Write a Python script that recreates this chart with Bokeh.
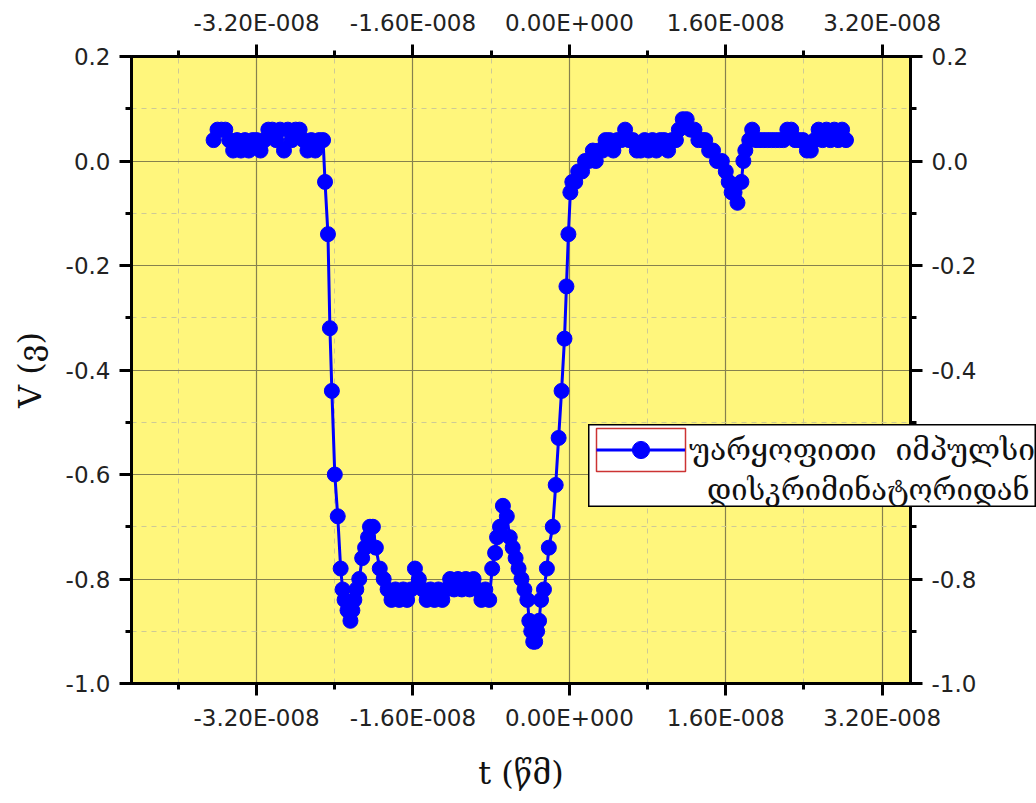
from bokeh.plotting import figure
from bokeh.models import (Range1d, LinearAxis, FixedTicker, CustomJSTickFormatter,
                          BoxAnnotation, Legend, LegendItem, Label, ColumnDataSource)
from bokeh.embed import file_html
from bokeh.resources import INLINE

# ---------------- data (time in ns, voltage in V) ----------------
t_ns = [
    -36.4, -36.0, -35.6, -35.2, -34.8, -34.4, -34.0, -33.6, -33.2, -32.8,
    -32.4, -32.0, -31.6, -31.2, -30.8, -30.4, -30.0, -29.6, -29.2, -28.8,
    -28.4, -28.0, -27.6, -27.2, -26.8, -26.4, -26.0, -25.6, -25.2,
    -25.0, -24.7, -24.5, -24.3, -24.0, -23.7, -23.4,
    -23.2, -23.0, -22.7, -22.4, -22.2, -22.0, -21.8, -21.5, -21.2, -20.9,
    -20.6, -20.4, -20.1, -19.8, -19.4,
    -19.0, -18.6, -18.2, -17.8, -17.4, -17.0, -16.6, -16.2, -15.8, -15.4,
    -15.0, -14.6, -14.2, -13.8, -13.4, -13.0, -12.6, -12.2, -11.8, -11.4,
    -11.0, -10.6, -10.2, -9.8, -9.4, -9.0, -8.6, -8.2,
    -7.9, -7.6, -7.4, -7.1, -6.8, -6.4, -6.1, -5.8, -5.5, -5.2,
    -4.9, -4.6, -4.3, -4.1, -3.9, -3.7, -3.5, -3.3, -3.1, -2.9,
    -2.6, -2.3, -2.1, -1.7, -1.4, -1.1, -0.8, -0.5, -0.3, -0.1, 0.1,
    0.3, 0.6, 0.9, 1.3, 1.6, 2.0, 2.4, 2.7, 3.0, 3.4, 3.7,
    4.1, 4.5, 4.9, 5.3, 5.7, 6.1, 6.5, 6.9, 7.3, 7.7,
    8.1, 8.5, 8.9, 9.3, 9.7, 10.1, 10.5, 10.9,
    11.2, 11.6, 12.0, 12.4,
    12.8, 13.2, 13.6, 13.9, 14.3, 14.7, 15.1, 15.6, 16.0, 16.3,
    16.6, 16.9, 17.2,
    17.6, 17.8, 18.0, 18.4, 18.7,
    19.1, 19.5, 19.9, 20.3, 20.7, 21.1, 21.5, 21.9, 22.3, 22.7,
    23.1, 23.5, 23.9, 24.3, 24.7, 25.1, 25.5, 25.9, 26.3, 26.7,
    27.1, 27.5, 27.9, 28.3,
]
v_volts = [
    0.04, 0.06, 0.06, 0.06, 0.04, 0.02, 0.04, 0.02, 0.04, 0.02,
    0.04, 0.04, 0.02, 0.04, 0.06, 0.06, 0.04, 0.06, 0.02, 0.06,
    0.04, 0.06, 0.06, 0.04, 0.02, 0.04, 0.02, 0.04, 0.04,
    -0.04, -0.14, -0.32, -0.44, -0.60, -0.68, -0.78,
    -0.82, -0.84, -0.86, -0.88, -0.86, -0.84, -0.82, -0.80, -0.76, -0.74,
    -0.72, -0.70, -0.70, -0.74, -0.78,
    -0.80, -0.82, -0.84, -0.82, -0.84, -0.82, -0.84, -0.82, -0.78, -0.80,
    -0.82, -0.84, -0.82, -0.84, -0.82, -0.84, -0.82, -0.80, -0.82, -0.80,
    -0.82, -0.80, -0.82, -0.80, -0.82, -0.84, -0.82, -0.84,
    -0.78, -0.75, -0.72, -0.70, -0.66, -0.68, -0.72, -0.74, -0.76, -0.78,
    -0.80, -0.82, -0.84, -0.88, -0.90, -0.92, -0.92, -0.90, -0.88, -0.84,
    -0.82, -0.78, -0.74, -0.70, -0.62, -0.53, -0.44, -0.34, -0.24, -0.14, -0.06,
    -0.04, -0.04, -0.02, -0.02, 0.00, 0.00, 0.02, 0.00, 0.02, 0.02, 0.04,
    0.04, 0.02, 0.04, 0.04, 0.06, 0.04, 0.04, 0.02, 0.02, 0.04,
    0.02, 0.04, 0.02, 0.04, 0.04, 0.02, 0.04, 0.04,
    0.06, 0.08, 0.08, 0.06,
    0.06, 0.04, 0.04, 0.04, 0.02, 0.02, 0.00, 0.00, -0.02, -0.04,
    -0.06, -0.06, -0.08,
    -0.04, 0.00, 0.02, 0.04, 0.06,
    0.04, 0.04, 0.04, 0.04, 0.04, 0.04, 0.04, 0.04, 0.06, 0.06,
    0.04, 0.04, 0.04, 0.02, 0.02, 0.04, 0.06, 0.04, 0.06, 0.04,
    0.06, 0.04, 0.06, 0.04,
]
t_sec = [x * 1e-9 for x in t_ns]

x_ticks = [-3.2e-8, -1.6e-8, 0.0, 1.6e-8, 3.2e-8]
x_tick_labels = ["-3.20E-008", "-1.60E-008", "0.00E+000", "1.60E-008", "3.20E-008"]
x_minor_ticks = [-4.0e-8, -2.4e-8, -0.8e-8, 0.8e-8, 2.4e-8]
y_ticks = [0.2, 0.0, -0.2, -0.4, -0.6, -0.8, -1.0]
y_tick_labels = ["0.2", "0.0", "-0.2", "-0.4", "-0.6", "-0.8", "-1.0"]
y_minor_ticks = [0.1, -0.1, -0.3, -0.5, -0.7, -0.9]

x_title = "t (წმ)"
y_title = "V (ვ)"
legend_line1 = "უარყოფითი  იმპულსი"
legend_line2 = "დისკრიმინატორიდან"

BLUE = "#0000FF"
MARKER_SIZE = 15
LINE_W = 3

src = ColumnDataSource(data=dict(t=t_sec, v=v_volts))

# ---------------- main figure ----------------
W, H = 1036, 803
FL, FR, FT, FB = 131, 910, 56, 683

p = figure(width=W, height=H, output_backend="svg", toolbar_location=None,
           x_range=Range1d(-4.48e-8, 3.49e-8), y_range=Range1d(-1.0, 0.2),
           min_border_left=FL, min_border_right=W - FR,
           min_border_top=FT, min_border_bottom=H - FB)
p.background_fill_color = "#FFF67C"
p.border_fill_color = "white"
p.outline_line_color = "black"
p.outline_line_width = 3

p.add_layout(LinearAxis(), "above")
p.add_layout(LinearAxis(), "right")

xt = FixedTicker(ticks=x_ticks, minor_ticks=x_minor_ticks)
yt = FixedTicker(ticks=y_ticks, minor_ticks=y_minor_ticks)

fmt_code = """
let best = -1, bd = Infinity;
for (let i = 0; i < tv.length; i++) { const d = Math.abs(tick - tv[i]); if (d < bd) { bd = d; best = i; } }
return best >= 0 ? tl[best] : "";
"""
xf = CustomJSTickFormatter(args=dict(tv=x_ticks, tl=x_tick_labels), code=fmt_code)
yf = CustomJSTickFormatter(args=dict(tv=y_ticks, tl=y_tick_labels), code=fmt_code)

for ax in list(p.xaxis) + list(p.yaxis):
    ax.axis_line_width = 3
    ax.axis_line_color = "black"
    ax.major_tick_line_width = 3
    ax.minor_tick_line_width = 3
    ax.major_tick_out = 12
    ax.major_tick_in = 0
    ax.minor_tick_out = 6
    ax.minor_tick_in = 0
    ax.major_label_text_font = "DejaVu Sans"
    ax.major_label_text_font_size = "23px"
    ax.major_label_text_color = "#222222"
    ax.major_label_standoff = 9
    ax.axis_label_text_font = "DejaVu Serif"
    ax.axis_label_text_font_size = "32px"
    ax.axis_label_text_font_style = "normal"
    ax.axis_label_text_color = "#111111"

for ax in p.xaxis:
    ax.ticker = xt
    ax.formatter = xf
for ax in p.yaxis:
    ax.ticker = yt
    ax.formatter = yf

p.below[0].axis_label = x_title
p.below[0].axis_label_standoff = 20
p.left[0].axis_label = y_title
p.left[0].axis_label_standoff = 14

for g, tk in ((p.xgrid, xt), (p.ygrid, yt)):
    g.ticker = tk
    g.grid_line_color = "#86814e"
    g.grid_line_width = 1.2
    g.minor_grid_line_color = "#cdc996"
    g.minor_grid_line_width = 1
    g.minor_grid_line_dash = "5 5"

p.line("t", "v", source=src, line_color=BLUE, line_width=LINE_W)
p.scatter("t", "v", source=src, marker="circle", size=MARKER_SIZE,
          fill_color=BLUE, line_color=BLUE)

# ---------------- legend: separate root placed over the chart (it overflows the frame) ----------------
LX0, LY0, LX1, LY1 = 588, 424, 1036, 507
lw, lh = LX1 - LX0, LY1 - LY0
q = figure(width=lw, height=lh, output_backend="svg", toolbar_location=None,
           x_axis_location=None, y_axis_location=None,
           min_border=0, min_border_left=0, min_border_right=0,
           min_border_top=0, min_border_bottom=0,
           x_range=Range1d(1, 2), y_range=Range1d(1, 2))   # series stays out of view here
q.grid.visible = False
q.background_fill_color = "white"
q.border_fill_color = "white"
q.outline_line_color = "black"
q.outline_line_width = 2
q.styles = {"position": "absolute", "left": f"{LX0}px", "top": f"{LY0}px", "z-index": "10"}

q.add_layout(BoxAnnotation(left=596 - LX0, right=685 - LX0, top=LY1 - 428, bottom=LY1 - 471,
                           left_units="screen", right_units="screen",
                           top_units="screen", bottom_units="screen",
                           fill_alpha=0.0,
                           line_color="#cc3333", line_width=1.5, line_alpha=1.0,
                           level="underlay"))

lr = q.line("t", "v", source=src, line_color=BLUE, line_width=LINE_W)
sr = q.scatter("t", "v", source=src, marker="circle", size=MARKER_SIZE,
               fill_color=BLUE, line_color=BLUE)
legend = Legend(items=[LegendItem(label=legend_line1, renderers=[lr, sr])],
                location=(596 - LX0, LY1 - 471))
legend.padding = 0
legend.margin = 0
legend.spacing = 0
legend.glyph_width = 89
legend.glyph_height = 43
legend.label_height = 43
legend.label_standoff = 4
legend.label_text_font = "DejaVu Serif"
legend.label_text_font_size = "30px"
legend.label_text_color = "#111111"
legend.label_text_baseline = "middle"
legend.border_line_color = None
legend.background_fill_alpha = 0
q.add_layout(legend)

q.add_layout(Label(x=1029 - LX0, y=LY1 - 489, x_units="screen", y_units="screen",
                   text=legend_line2, text_align="right", text_baseline="middle",
                   text_font="DejaVu Serif", text_font_size="29px", text_color="#111111"))

open("out.html", "w").write(file_html([p, q], INLINE))
